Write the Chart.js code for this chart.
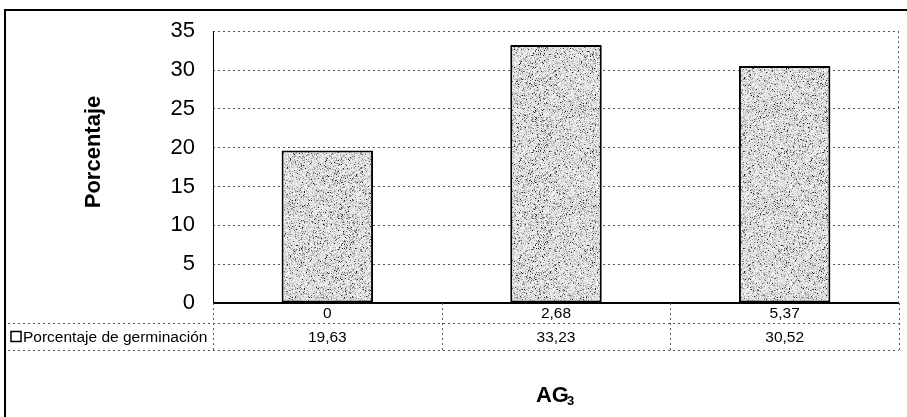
<!DOCTYPE html>
<html>
<head>
<meta charset="utf-8">
<script src="https://cdn.jsdelivr.net/npm/chart.js@4.4.1/dist/chart.umd.min.js"></script>
<style>
  html, body { margin: 0; padding: 0; background: #fff; }
</style>
</head>
<body>
<canvas id="germChart" width="907" height="417"></canvas>
<script>
// Germinación según dosis de AG3
const categories = ['0', '2,68', '5,37'];
const germinacion = [19.63, 33.23, 30.52];
const seriesName = 'Porcentaje de germinación';
const yMin = 0, yMax = 35, yStep = 5;

const FONT = '"Liberation Sans", Arial, sans-serif';

// stippled grey fill like the scanned Excel bars
function stipplePattern() {
  const c = document.createElement('canvas');
  c.width = 97; c.height = 97;
  const g = c.getContext('2d');
  g.fillStyle = '#dedede';
  g.fillRect(0, 0, 97, 97);
  let s = 20231;
  const next = () => { s = (s * 16807) % 2147483647; return s; };
  const dots = [['#a8a8a8', 2200], ['#666', 650], ['#222', 220], ['#fafafa', 1800]];
  dots.forEach(([col, n]) => {
    g.fillStyle = col;
    for (let i = 0; i < n; i++) g.fillRect(next() % 97, next() % 97, 1, 1);
  });
  return g.createPattern(c, 'repeat');
}

const fmt = v => v.toFixed(2).replace('.', ',');

// axis lines, data table, titles and outer frame
const tablePlugin = {
  id: 'tablePlugin',
  afterDraw(chart) {
    const ctx = chart.ctx;
    const a = chart.chartArea;
    const xs = chart.scales.x;
    const ys = chart.scales.y;
    const y0 = ys.getPixelForValue(0);
    const row1 = a.bottom + 20;
    const row2 = row1 + 27;
    const colW = (a.right - a.left) / categories.length;

    ctx.save();
    // axis lines
    ctx.strokeStyle = '#000';
    ctx.lineWidth = 1;
    ctx.beginPath();
    ctx.moveTo(a.left + 0.5, a.top);
    ctx.lineTo(a.left + 0.5, y0);
    ctx.stroke();
    ctx.lineWidth = 2;
    ctx.beginPath();
    ctx.moveTo(a.left, y0);
    ctx.lineTo(a.right, y0);
    ctx.stroke();

    // table grid
    ctx.strokeStyle = '#555';
    ctx.lineWidth = 1;
    ctx.setLineDash([2, 3]);
    ctx.beginPath();
    [row1, row2].forEach(r => {
      ctx.moveTo(8, r + 0.5);
      ctx.lineTo(a.right, r + 0.5);
    });
    for (let i = 0; i <= categories.length; i++) {
      const px = Math.round(a.left + i * colW) + 0.5;
      ctx.moveTo(px, a.bottom);
      ctx.lineTo(px, row2);
    }
    ctx.moveTo(a.right - 0.5, a.top);
    ctx.lineTo(a.right - 0.5, a.bottom);
    ctx.stroke();
    ctx.setLineDash([]);

    // table text
    ctx.fillStyle = '#000';
    ctx.font = '15.5px ' + FONT;
    ctx.textAlign = 'center';
    ctx.textBaseline = 'middle';
    categories.forEach((c, i) => {
      const cx = xs.getPixelForValue(i);
      ctx.fillText(c, cx, (a.bottom + row1) / 2 + 1);
      ctx.fillText(fmt(germinacion[i]), cx, (row1 + row2) / 2 + 1);
    });

    // legend key + series name
    const my = (row1 + row2) / 2;
    ctx.lineWidth = 1.5;
    ctx.strokeStyle = '#000';
    ctx.fillStyle = '#fff';
    ctx.fillRect(11, my - 5, 10, 10);
    ctx.strokeRect(11, my - 5, 10, 10);
    ctx.fillStyle = '#000';
    ctx.textAlign = 'left';
    ctx.fillText(seriesName, 23, my + 1);

    // y title
    ctx.save();
    ctx.translate(94, 152);
    ctx.rotate(-Math.PI / 2);
    ctx.textAlign = 'center';
    ctx.font = 'bold 22px ' + FONT;
    ctx.fillText('Porcentaje', 0, 0);
    ctx.restore();

    // x title AG3
    const cx = (a.left + a.right) / 2;
    ctx.font = 'bold 22px ' + FONT;
    const wAG = ctx.measureText('AG').width;
    ctx.font = 'bold 13px ' + FONT;
    const w3 = ctx.measureText('3').width;
    const startX = cx - (wAG + w3) / 2;
    ctx.font = 'bold 22px ' + FONT;
    ctx.textAlign = 'left';
    ctx.textBaseline = 'alphabetic';
    ctx.fillText('AG', startX, 402);
    ctx.font = 'bold 13px ' + FONT;
    ctx.fillText('3', startX + wAG - 2, 405);

    // outer frame
    ctx.lineWidth = 2;
    ctx.strokeRect(5, 10, 920, 430);
    ctx.restore();
  }
};

const germCanvas = document.getElementById('germChart');

const germConfig = {
  type: 'bar',
  data: {
    labels: categories,
    datasets: [{
      label: seriesName,
      data: germinacion,
      backgroundColor: stipplePattern(),
      borderColor: '#000',
      borderWidth: 2,
      borderSkipped: false,
      categoryPercentage: 1,
      barPercentage: 0.4
    }]
  },
  options: {
    responsive: false,
    animation: false,
    layout: { padding: { left: 0, top: 26, right: 8, bottom: 114 } },
    plugins: {
      legend: { display: false },
      tooltip: { enabled: false }
    },
    scales: {
      x: {
        ticks: { display: false },
        grid: { display: false },
        border: { display: false },
        afterFit: s => { s.height = 0; }
      },
      y: {
        min: yMin,
        max: yMax,
        ticks: {
          stepSize: yStep,
          padding: 18,
          color: '#000',
          font: { family: FONT, size: 22 }
        },
        grid: { color: '#555', lineWidth: 1, drawTicks: false },
        border: { display: false, dash: [2, 3] },
        afterFit: s => { s.width = 213; }
      }
    }
  },
  plugins: [tablePlugin]
};

new Chart(germCanvas, germConfig);
</script>
</body>
</html>
